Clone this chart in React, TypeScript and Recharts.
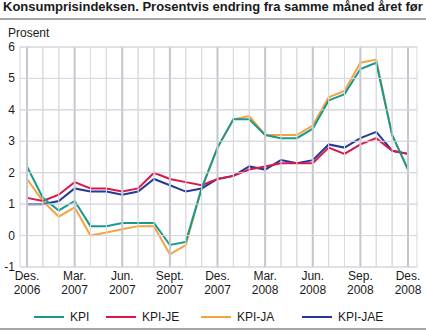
import React from "react";
import { LineChart, Line, XAxis, YAxis, CartesianGrid } from "recharts";

// ─── Data ─────────────────────────────────────────────────────────────────────

const MONTHS = [
  "2006-12", "2007-01", "2007-02", "2007-03", "2007-04", "2007-05", "2007-06",
  "2007-07", "2007-08", "2007-09", "2007-10", "2007-11", "2007-12",
  "2008-01", "2008-02", "2008-03", "2008-04", "2008-05", "2008-06",
  "2008-07", "2008-08", "2008-09", "2008-10", "2008-11", "2008-12",
];

// two-line tick labels, keyed by month
const TICK_LABELS: Record<string, [string, string]> = {
  "2006-12": ["Des.", "2006"],
  "2007-03": ["Mar.", "2007"],
  "2007-06": ["Jun.", "2007"],
  "2007-09": ["Sept.", "2007"],
  "2007-12": ["Des.", "2007"],
  "2008-03": ["Mar.", "2008"],
  "2008-06": ["Jun.", "2008"],
  "2008-09": ["Sep.", "2008"],
  "2008-12": ["Des.", "2008"],
};

const KPI = [
  2.2, 1.2, 0.8, 1.1, 0.3, 0.3, 0.4, 0.4, 0.4, -0.3, -0.2, 1.5, 2.8,
  3.7, 3.7, 3.2, 3.1, 3.1, 3.4, 4.3, 4.5, 5.3, 5.5, 3.2, 2.1,
];
const KPI_JE = [
  1.2, 1.1, 1.3, 1.7, 1.5, 1.5, 1.4, 1.5, 2.0, 1.8, 1.7, 1.6, 1.8,
  1.9, 2.1, 2.2, 2.3, 2.3, 2.3, 2.8, 2.6, 2.9, 3.1, 2.7, 2.6,
];
const KPI_JA = [
  1.8, 1.1, 0.6, 0.9, 0.0, 0.1, 0.2, 0.3, 0.3, -0.6, -0.3, 1.5, 2.8,
  3.7, 3.8, 3.2, 3.2, 3.2, 3.5, 4.4, 4.6, 5.5, 5.6, 3.2, 2.1,
];
const KPI_JAE = [
  1.0, 1.0, 1.1, 1.5, 1.4, 1.4, 1.3, 1.4, 1.8, 1.6, 1.4, 1.5, 1.8,
  1.9, 2.2, 2.1, 2.4, 2.3, 2.4, 2.9, 2.8, 3.1, 3.3, 2.7, 2.6,
];

const Y_TICKS = [-1, 0, 1, 2, 3, 4, 5, 6];

const SERIES = [
  { key: "KPI-JA", values: KPI_JA, color: "#f7a23b" },
  { key: "KPI-JAE", values: KPI_JAE, color: "#25399a" },
  { key: "KPI-JE", values: KPI_JE, color: "#d8174b" },
  { key: "KPI", values: KPI, color: "#18998f" },
];

// legend order as in the picture, with x offsets
const LEGEND_ITEMS = [
  { key: "KPI", x: 34 },
  { key: "KPI-JE", x: 106 },
  { key: "KPI-JA", x: 201 },
  { key: "KPI-JAE", x: 302 },
];

const data = MONTHS.map((m, i) => {
  const row: Record<string, number | string> = { m };
  for (const s of SERIES) row[s.key] = s.values[i];
  return row;
});

const FONT = "'Liberation Sans', Arial, sans-serif";
const TEXT = "#1a1a1a";
// plot box
const PLOT = { left: 20, right: 417, top: 47, bottom: 267 };

// ─── Ticks (they also draw the grid lines) ────────────────────────────────────

function XTick(props: any) {
  const lbl = TICK_LABELS[props.payload.value];
  return (
    <g>
      <line
        x1={props.x}
        x2={props.x}
        y1={PLOT.top}
        y2={PLOT.bottom}
        stroke={lbl ? "#c6c7ce" : "#dadbe0"}
        strokeWidth={lbl ? 2 : 1}
      />
      {lbl && (
        <text
          x={props.x}
          textAnchor="middle"
          fontFamily={FONT}
          fontSize={12}
          fill={TEXT}
        >
          <tspan x={props.x} y={280}>{lbl[0]}</tspan>
          <tspan x={props.x} y={294}>{lbl[1]}</tspan>
        </text>
      )}
    </g>
  );
}

function YTick(props: any) {
  return (
    <g>
      <line
        x1={PLOT.left}
        x2={PLOT.right}
        y1={props.y}
        y2={props.y}
        stroke="#d6d7dd"
        strokeWidth={1}
      />
      <text
        x={15}
        y={props.y + 4}
        textAnchor="end"
        fontFamily={FONT}
        fontSize={12}
        fill={TEXT}
      >
        {props.payload.value}
      </text>
    </g>
  );
}

function LegendBox() {
  return (
    <div style={{ position: "absolute", left: 0, top: 307, width: 426, height: 20 }}>
      {LEGEND_ITEMS.map((it) => {
        const s = SERIES.find((x) => x.key === it.key)!;
        return (
          <div
            key={it.key}
            style={{
              position: "absolute",
              left: it.x,
              top: 0,
              display: "flex",
              alignItems: "center",
              height: 20,
            }}
          >
            <div style={{ width: 30, height: 2, background: s.color }} />
            <span style={{ marginLeft: 6, fontSize: 12, color: TEXT }}>
              {it.key}
            </span>
          </div>
        );
      })}
    </div>
  );
}

// ─── Component ────────────────────────────────────────────────────────────────

export default function App() {
  return (
    <div
      style={{
        position: "absolute",
        left: 0,
        top: 0,
        width: 426,
        height: 330,
        background: "#fff",
        fontFamily: FONT,
      }}
    >
      <div
        style={{
          position: "absolute",
          left: 3,
          top: 0,
          fontSize: 13,
          fontWeight: "bold",
          color: TEXT,
          whiteSpace: "nowrap",
          lineHeight: "14px",
        }}
      >
        Konsumprisindeksen. Prosentvis endring fra samme måned året før
      </div>
      <div
        style={{
          position: "absolute",
          left: 0,
          top: 18,
          width: 426,
          height: 2,
          background: "#a6a6a6",
        }}
      />
      <div
        style={{
          position: "absolute",
          left: 8,
          top: 26,
          fontSize: 12,
          color: TEXT,
          lineHeight: "14px",
        }}
      >
        Prosent
      </div>
      <div
        style={{
          position: "absolute",
          left: 0,
          top: 328,
          width: 426,
          height: 2,
          background: "#a6a6a6",
        }}
      />
      <div style={{ position: "absolute", left: 0, top: 0 }}>
        <LineChart
          width={426}
          height={330}
          data={data}
          margin={{ top: 47, right: 9, left: 0, bottom: 0 }}
        >
          <CartesianGrid stroke="#d6d7dd" />
          <XAxis
            dataKey="m"
            type="category"
            interval={0}
            padding={{ left: 7, right: 9 }}
            axisLine={false}
            tickLine={false}
            tick={XTick}
            height={63}
          />
          <YAxis
            type="number"
            domain={[-1, 6]}
            ticks={Y_TICKS}
            interval={0}
            width={20}
            axisLine={false}
            tickLine={false}
            tick={YTick}
          />
          {SERIES.map((s) => (
            <Line
              key={s.key}
              dataKey={s.key}
              stroke={s.color}
              strokeWidth={2}
              dot={false}
              activeDot={false}
              type="linear"
              isAnimationActive={false}
            />
          ))}
        </LineChart>
      </div>
      <LegendBox />
    </div>
  );
}
